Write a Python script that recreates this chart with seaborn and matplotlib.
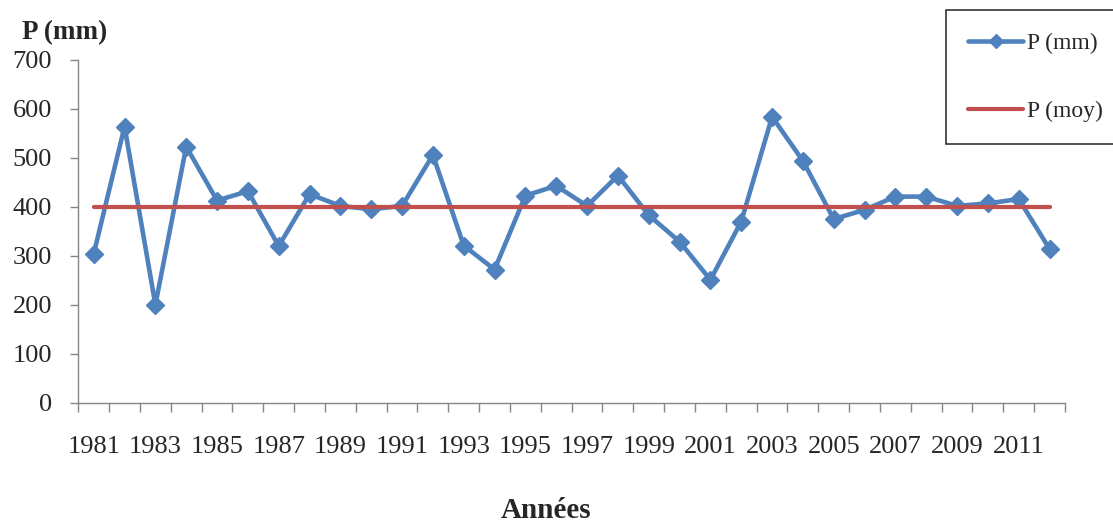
import numpy as np
import pandas as pd
import matplotlib
matplotlib.use("Agg")
import matplotlib.pyplot as plt
import seaborn as sns
from matplotlib.lines import Line2D

# ---- data ----
years = [1981, 1982, 1983, 1984, 1985, 1986, 1987, 1988, 1989, 1990,
         1991, 1992, 1993, 1994, 1995, 1996, 1997, 1998, 1999, 2000,
         2001, 2002, 2003, 2004, 2005, 2006, 2007, 2008, 2009, 2010,
         2011, 2012]
p_mm = [304, 564, 200, 523, 413, 432, 320, 426, 402, 395,
        402, 506, 321, 272, 423, 443, 402, 464, 383, 329,
        251, 370, 584, 494, 375, 394, 421, 421, 402, 407,
        416, 314]
p_moy_value = 399
series_labels = ["P (mm)", "P (moy)"]
y_ticks = [0, 100, 200, 300, 400, 500, 600, 700]

# ---- style ----
sns.set_theme(style="white")
plt.rcParams["font.family"] = ["Liberation Serif", "DejaVu Serif"]

BLUE = "#4F81BD"
RED = "#C0504D"
GRAY = "#868686"

df = pd.DataFrame({"idx": np.arange(len(years)), "year": years, "P": p_mm})
df["moy"] = p_moy_value

fig = plt.figure(figsize=(11.13, 5.25), dpi=100)
ax = fig.add_axes([78.3 / 1113, 1 - 402.7 / 525, (1065 - 78.3) / 1113, (402.7 - 60) / 525])

sns.lineplot(data=df, x="idx", y="P", ax=ax, color=BLUE, lw=3.3, marker="D",
             markersize=9.5, markeredgecolor=BLUE, markeredgewidth=1, zorder=2)
sns.lineplot(data=df, x="idx", y="moy", ax=ax, color=RED, lw=3, zorder=3)

ax.set_xlim(-0.5, len(years) - 0.5)
ax.set_ylim(0, 700)
ax.set_yticks(y_ticks)
ax.set_yticklabels([str(v) for v in y_ticks], fontsize=19)

ax.set_xticks(np.arange(-0.5, len(years), 1.0))
ax.set_xticklabels([])
ax.set_xticks(df["idx"][::2], minor=True)
ax.set_xticklabels([str(y) for y in years[::2]], minor=True, fontsize=19)

ax.tick_params(axis="x", which="major", length=6.5, width=1, color=GRAY, direction="out", bottom=True)
ax.tick_params(axis="x", which="minor", length=0, pad=24, bottom=True)
ax.tick_params(axis="y", which="major", length=5.8, width=1, color=GRAY, direction="out", pad=13, left=True)

for s in ["top", "right"]:
    ax.spines[s].set_visible(False)
for s in ["left", "bottom"]:
    ax.spines[s].set_color(GRAY)
    ax.spines[s].set_linewidth(1)

ax.set_xlabel("")
ax.set_ylabel("")
ax.grid(False)

fig.text(21.7 / 1113, 1 - 39.5 / 525, "P (mm)", fontsize=19.5, fontweight="bold",
         ha="left", va="baseline")
fig.text(546.5 / 1113, 1.0 / 525, "Années", fontsize=21, fontweight="bold",
         ha="center", va="bottom")

handles = [
    Line2D([], [], color=BLUE, lw=3.3, marker="D", markersize=7, markeredgecolor=BLUE),
    Line2D([], [], color=RED, lw=3),
]
leg = fig.legend(handles, series_labels, loc="upper left",
                 bbox_to_anchor=(946 / 1113, 1 - 10 / 525), bbox_transform=fig.transFigure,
                 frameon=True, fancybox=False, edgecolor="black", fontsize=17,
                 handlelength=2.3, handletextpad=0.2, labelspacing=1.97,
                 borderpad=0.95, borderaxespad=0)
leg.get_frame().set_linewidth(1.2)

fig.savefig("out.png", dpi=100)
